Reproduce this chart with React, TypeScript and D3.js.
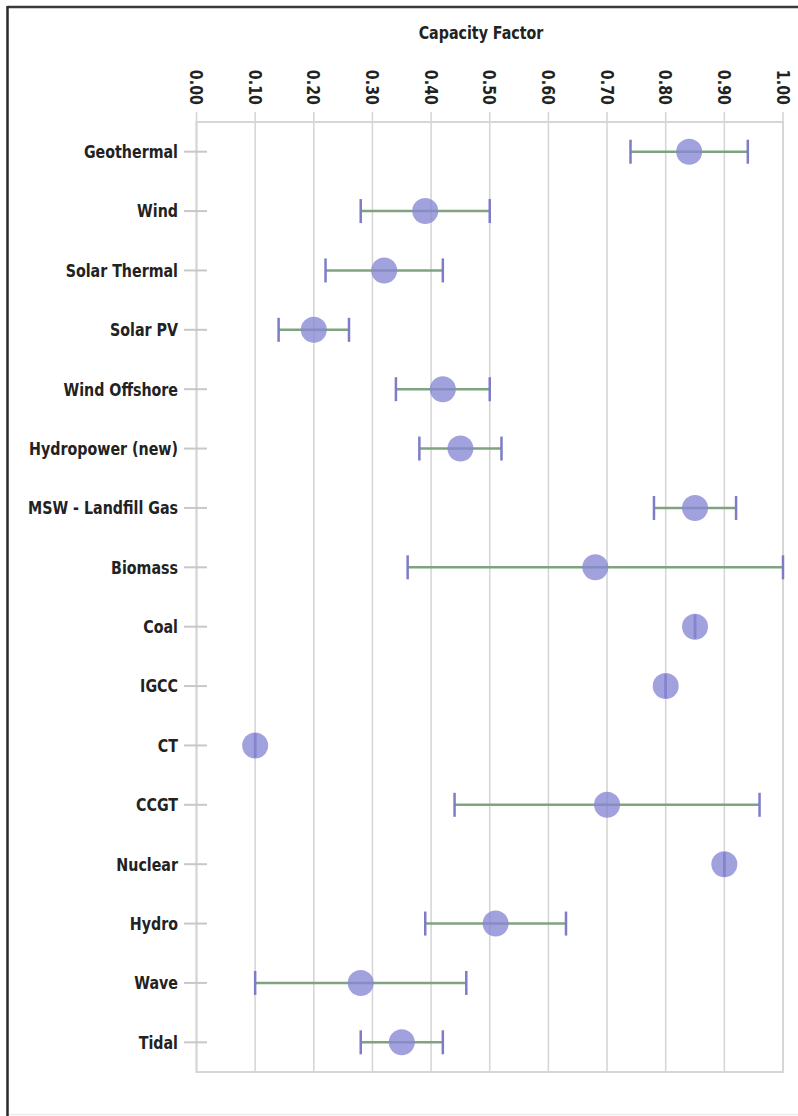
import React from "react";
import * as d3 from "d3";

const categories = [
  "Geothermal", "Wind", "Solar Thermal", "Solar PV", "Wind Offshore", "Hydropower (new)",
  "MSW - Landfill Gas", "Biomass", "Coal", "IGCC", "CT", "CCGT", "Nuclear", "Hydro", "Wave", "Tidal",
];
const values = [0.84, 0.39, 0.32, 0.20, 0.42, 0.45, 0.85, 0.68, 0.85, 0.80, 0.10, 0.70, 0.90, 0.51, 0.28, 0.35];
const lows = [0.74, 0.28, 0.22, 0.14, 0.34, 0.38, 0.78, 0.36, 0.85, 0.80, 0.10, 0.44, 0.90, 0.39, 0.10, 0.28];
const highs = [0.94, 0.50, 0.42, 0.26, 0.50, 0.52, 0.92, 1.00, 0.85, 0.80, 0.10, 0.96, 0.90, 0.63, 0.46, 0.42];
const tickValues = [0, 0.1, 0.2, 0.3, 0.4, 0.5, 0.6, 0.7, 0.8, 0.9, 1.0];
const axisTitle = "Capacity Factor";

const W = 798;
const H = 1116;
const FONT = "'DejaVu Sans Condensed', 'Liberation Sans Narrow', 'DejaVu Sans', sans-serif";

export default function App() {
  const left = 196.5, right = 783, top = 122, bottom = 1072;
  const x = d3.scaleLinear().domain([0, 1]).range([left, right]);
  const y = d3.scalePoint<string>().domain(categories).range([top, bottom]).padding(0.5);
  const fmt = d3.format(".2f");
  const grid = "#d6d6d6";

  return (
    <div style={{ position: "absolute", left: 0, top: 0 }}>
      <svg width={W} height={H} style={{ display: "block", background: "#fff" }}>
        {/* outer frame */}
        <line x1={7.5} y1={7} x2={W} y2={7} stroke="#3a3a3a" strokeWidth={2.5} />
        <line x1={7.5} y1={6} x2={7.5} y2={H} stroke="#2a2a2a" strokeWidth={2.5} />
        <line x1={9} y1={1114.5} x2={W} y2={1114.5} stroke="#ececec" strokeWidth={1.5} />

        {/* title */}
        <text transform="translate(481,39) scale(0.88,1)" textAnchor="middle" fontFamily={FONT} fontWeight="bold" fontSize={18} fill="#222">
          {axisTitle}
        </text>

        {/* vertical gridlines + tick marks */}
        {tickValues.map((t) => (
          <line key={"g" + t} x1={x(t)} x2={x(t)} y1={112} y2={bottom} stroke={grid} strokeWidth={1.6} />
        ))}
        {/* plot frame */}
        <rect x={left} y={top} width={right - left} height={bottom - top} fill="none" stroke={grid} strokeWidth={2} />

        {/* tick labels */}
        {tickValues.map((t) => (
          <text
            key={"t" + t}
            transform={`translate(${x(t)},105) rotate(90) scale(0.88,1)`}
            textAnchor="end"
            dominantBaseline="central"
            fontFamily={FONT}
            fontWeight="bold"
            fontSize={18}
            fill="#222"
          >
            {fmt(t)}
          </text>
        ))}

        {/* category ticks and labels */}
        {categories.map((c) => (
          <g key={"c" + c}>
            <line x1={184} x2={207} y1={y(c)} y2={y(c)} stroke="#c8c8c8" strokeWidth={2} />
            <text
              transform={`translate(178,${y(c)}) scale(0.88,1)`}
              textAnchor="end"
              dominantBaseline="central"
              fontFamily={FONT}
              fontWeight="bold"
              fontSize={18}
              fill="#222"
            >
              {c}
            </text>
          </g>
        ))}

        {/* ranges */}
        {categories.map((c, i) => {
          const cy = y(c) as number;
          return (
            <g key={"r" + c}>
              <line x1={x(lows[i])} x2={x(highs[i])} y1={cy} y2={cy} stroke="#7fa37f" strokeWidth={2.5} />
              <line x1={x(lows[i])} x2={x(lows[i])} y1={cy - 12} y2={cy + 12} stroke="#7c7cc8" strokeWidth={2.5} />
              <line x1={x(highs[i])} x2={x(highs[i])} y1={cy - 12} y2={cy + 12} stroke="#7c7cc8" strokeWidth={2.5} />
              <circle cx={x(values[i])} cy={cy} r={13} fill="#8787d4" fillOpacity={0.78} />
            </g>
          );
        })}
      </svg>
    </div>
  );
}
